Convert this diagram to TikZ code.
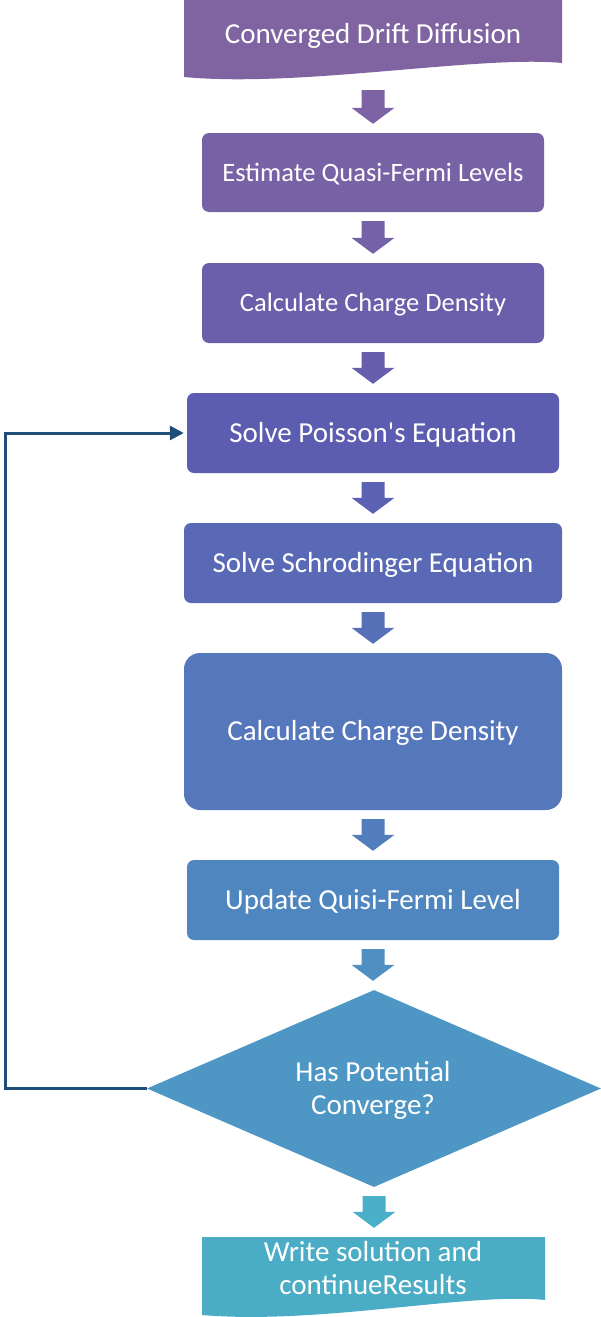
\documentclass[tikz,border=0pt]{standalone}
\usepackage{fontspec}
\setmainfont{Carlito}
\usetikzlibrary{shapes.geometric,arrows.meta,calc}
\definecolor{c1}{HTML}{8064A2}
\definecolor{c2}{HTML}{7862A6}
\definecolor{c3}{HTML}{6B5EAB}
\definecolor{c4}{HTML}{5C5CB0}
\definecolor{c5}{HTML}{5A69B5}
\definecolor{c6}{HTML}{5577BB}
\definecolor{c7}{HTML}{5086C0}
\definecolor{c8}{HTML}{4E97C4}
\definecolor{c9}{HTML}{4BACC6}
\definecolor{a1}{HTML}{7E63A4}
\definecolor{a2}{HTML}{7461A8}
\definecolor{a3}{HTML}{665DAD}
\definecolor{a4}{HTML}{5B61B3}
\definecolor{a5}{HTML}{5770B8}
\definecolor{a6}{HTML}{537EBD}
\definecolor{a7}{HTML}{4F8FC2}
\definecolor{a8}{HTML}{4AAFC8}
\definecolor{loopcol}{HTML}{1F4E79}
\newcommand\blockarrow[3]{%
  \fill[#3] let \p1=(#1.south), \p2=(#2.north) in
    (\x1-11.5pt,\y1-9pt) -- (\x1+11.5pt,\y1-9pt) -- (\x1+11.5pt,\y2+25pt) --
    (\x1+21.5pt,\y2+25pt) -- (\x1,\y2+9pt) -- (\x1-21.5pt,\y2+25pt) --
    (\x1-11.5pt,\y2+25pt) -- cycle;}
\begin{document}
\begin{tikzpicture}[x=1pt,y=-1pt,
  boxnode/.style={rectangle, rounded corners=7pt, inner sep=0pt, text=white,
    font=\fontsize{29}{33}\selectfont, text height=18.7pt, text depth=0pt},
  smalltext/.style={font=\fontsize{26.5}{30}\selectfont, text height=17.1pt, text depth=0pt},
  txt/.style={text=white, inner sep=0pt, align=center, font=\fontsize{29}{33}\selectfont},
  holder/.style={rectangle, inner sep=0pt},
  loopline/.style={draw=loopcol, line width=3pt, -{Triangle[length=14pt,width=14pt]}}]
\useasboundingbox (0,0) rectangle (600,1317);
% top document shape
\node[holder, minimum width=378pt, minimum height=81pt] (n1) at (373,40.5) {};
\fill[c1] (184,0) -- (562,0) -- (562,63) .. controls (480,55) and (300,88) .. (184,77) -- cycle;
\node[txt, text height=18.7pt, text depth=0pt] (t1) at (373,34) {Converged Drift Diffusion};
% boxes
\node[boxnode, smalltext, fill=c2, minimum width=342pt, minimum height=79pt] (n2) at (373,172.5) {Estimate Quasi-Fermi Levels};
\node[boxnode, smalltext, fill=c3, minimum width=342pt, minimum height=80pt] (n3) at (373,303) {Calculate Charge Density};
\node[boxnode, fill=c4, minimum width=372pt, minimum height=80pt] (n4) at (373,433) {Solve Poisson\textquotesingle s Equation};
\node[boxnode, fill=c5, minimum width=378pt, minimum height=80pt] (n5) at (373,563) {Solve Schrodinger Equation};
\node[boxnode, fill=c6, rounded corners=16pt, minimum width=378pt, minimum height=157pt] (n6) at (373,731.5) {Calculate Charge Density};
\node[boxnode, fill=c7, minimum width=372pt, minimum height=80pt] (n7) at (373,900) {Update Quisi-Fermi Level};
\node[diamond, fill=c8, inner sep=0pt, minimum width=454pt, minimum height=197pt] (n8) at (374,1088.5) {};
\node[txt] (t8) at (373,1090) {Has Potential\\Converge?};
% bottom document shape
\node[holder, minimum width=343pt, minimum height=78pt] (n9) at (373.5,1276) {};
\fill[c9] (202,1237) -- (545,1237) -- (545,1300) .. controls (470,1292) and (320,1325) .. (202,1315) -- cycle;
\node[txt] (t9) at (373,1268) {Write solution and\\continueResults};
% block arrows
\blockarrow{n1}{n2}{a1}
\blockarrow{n2}{n3}{a2}
\blockarrow{n3}{n4}{a3}
\blockarrow{n4}{n5}{a4}
\blockarrow{n5}{n6}{a5}
\blockarrow{n6}{n7}{a6}
\blockarrow{n7}{n8}{a7}
\blockarrow{n8}{n9}{a8}
% loop back connector
\coordinate (lp) at (5,1090);
\draw[loopline, shorten >=3pt] (n8.west) -- (n8.west -| lp) |- (n4.west);
\end{tikzpicture}
\end{document}
